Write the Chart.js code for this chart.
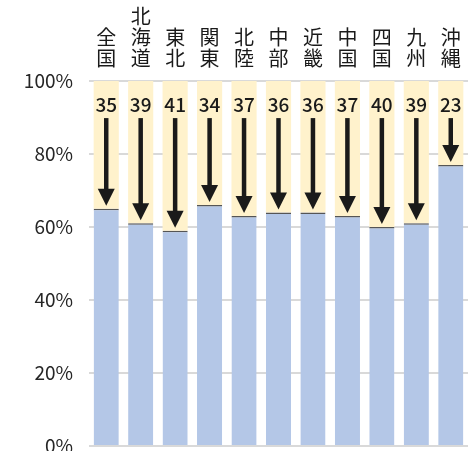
<!DOCTYPE html>
<html>
<head>
<meta charset="utf-8">
<script src="https://cdn.jsdelivr.net/npm/chart.js@4/dist/chart.umd.min.js"></script>
<style>
  html, body { margin: 0; padding: 0; background: #fff; }
  canvas { display: block; }
</style>
</head>
<body>
<canvas id="myChart" width="468" height="451"></canvas>
<script>
const categories = ['全国', '北海道', '東北', '関東', '北陸', '中部', '近畿', '中国', '四国', '九州', '沖縄'];
const lowerValues = [65, 61, 59, 66, 63, 64, 64, 63, 60, 61, 77];
const upperValues = [35, 39, 41, 34, 37, 36, 36, 37, 40, 39, 23];
const yTicks = [0, 20, 40, 60, 80, 100];

const FONT = '"Noto Sans CJK JP", "Noto Sans", sans-serif';

// numbers at the top of each bar and the arrows pointing down to the split
const arrowPlugin = {
    id: 'arrows',
    afterDatasetsDraw(chart) {
        const ctx = chart.ctx;
        const y = chart.scales.y;
        const meta = chart.getDatasetMeta(0);
        ctx.save();
        upperValues.forEach((v, i) => {
            const x = meta.data[i].x;
            const labelY = y.getPixelForValue(93.4);
            ctx.fillStyle = '#1a1a1a';
            ctx.font = '500 19px ' + FONT;
            ctx.textAlign = 'center';
            ctx.textBaseline = 'middle';
            ctx.fillText(String(v), x, labelY);

            const yStart = labelY + 13;
            const yEnd = y.getPixelForValue(lowerValues[i]) - 3;
            const headH = 17, headW = 17;
            ctx.strokeStyle = '#1a1a1a';
            ctx.lineWidth = 4.5;
            ctx.beginPath();
            ctx.moveTo(x, yStart);
            ctx.lineTo(x, yEnd - headH + 2);
            ctx.stroke();
            ctx.beginPath();
            ctx.moveTo(x - headW / 2, yEnd - headH);
            ctx.lineTo(x + headW / 2, yEnd - headH);
            ctx.lineTo(x, yEnd);
            ctx.closePath();
            ctx.fill();
        });
        ctx.restore();
    }
};

const data = {
    labels: categories.map(c => c.split('')),
    datasets: [{
        data: lowerValues,
        backgroundColor: '#b4c7e7',
        borderColor: '#555555',
        borderWidth: { top: 1.5, left: 0, right: 0, bottom: 0 },
        borderSkipped: false,
        barPercentage: 0.73,
        categoryPercentage: 1
    }, {
        data: upperValues,
        backgroundColor: '#fff2cc',
        borderWidth: 0,
        barPercentage: 0.73,
        categoryPercentage: 1
    }]
};

const config = {
    type: 'bar',
    data: data,
    plugins: [arrowPlugin],
    options: {
        responsive: false,
        animation: false,
        layout: { padding: { left: 0, right: 0, top: 0, bottom: 5 } },
        plugins: {
            legend: { display: false },
            tooltip: { enabled: false }
        },
        scales: {
            x: {
                position: 'top',
                stacked: true,
                grid: { display: false },
                border: { display: false },
                ticks: {
                    color: '#1a1a1a',
                    padding: 4,
                    maxRotation: 0,
                    autoSkip: false,
                    font: { family: FONT, size: 20, lineHeight: 1.05 }
                },
                afterFit: s => { s.height = 81; s.paddingLeft = 0; s.paddingRight = 0; }
            },
            y: {
                stacked: true,
                min: 0,
                max: 100,
                afterBuildTicks: s => { s.ticks = yTicks.map(v => ({ value: v })); },
                grid: { color: '#d9d9d9', lineWidth: 2, drawTicks: false },
                border: { display: false },
                ticks: {
                    color: '#262626',
                    padding: 16,
                    font: { family: FONT, size: 19 },
                    callback: v => v + '%'
                },
                afterFit: s => { s.width = 89; s.paddingTop = 0; s.paddingBottom = 0; }
            }
        }
    }
};

new Chart(document.getElementById('myChart'), config);
</script>
</body>
</html>
